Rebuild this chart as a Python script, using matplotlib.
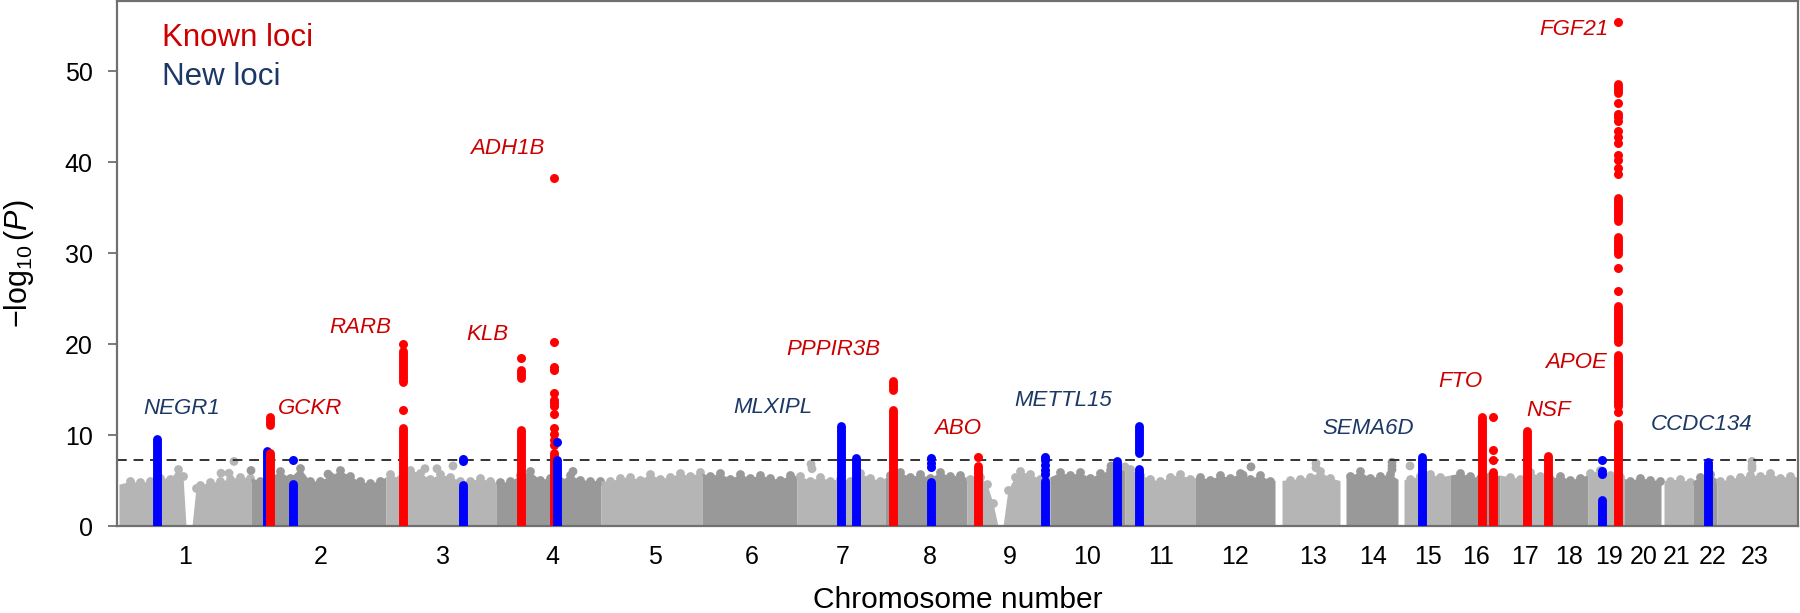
import numpy as np
import matplotlib
matplotlib.use("Agg")
import matplotlib.pyplot as plt

plt.rcParams['font.family'] = ['Liberation Sans', 'DejaVu Sans']
plt.rcParams['mathtext.fontset'] = 'custom'
plt.rcParams['mathtext.rm'] = 'Liberation Sans'
plt.rcParams['mathtext.it'] = 'Liberation Sans:italic'

# chromosome layout, in cumulative position units along the genome
chrom_labels = [str(i) for i in range(1, 24)]
chrom_start = [119, 251, 386, 496, 601, 702, 797, 885, 967, 1050, 1125, 1195,
               1282, 1346, 1404, 1450, 1500, 1549, 1588, 1624, 1664, 1693, 1717]
chrom_end = [251, 386, 496, 601, 702, 797, 885, 967, 1050, 1125, 1195, 1275,
             1340, 1398, 1450, 1500, 1549, 1588, 1624, 1661, 1693, 1717, 1797]
chrom_tick = [185, 321, 443, 552, 655, 752, 843, 930, 1010, 1087, 1161, 1235,
              1313, 1373, 1428, 1476, 1525, 1569, 1609, 1644, 1677, 1713, 1755]

# upper edge of the dense cloud of non-significant SNPs (-log10 P)
bg_pos = [119, 130, 140, 150, 160, 170, 178, 183, 186, 192, 196, 200, 210, 220,
          230, 240, 250, 260, 270, 280, 290, 300, 310, 320, 330, 340, 350, 360,
          370, 380, 390, 400, 410, 420, 430, 440, 450, 460, 470, 480, 490, 500,
          510, 520, 530, 540, 550, 560, 570, 580, 590, 600, 610, 620, 630, 640,
          650, 660, 670, 680, 690, 700, 710, 720, 730, 740, 750, 760, 770, 780,
          790, 800, 810, 820, 830, 840, 850, 860, 870, 880, 890, 900, 910, 920,
          930, 940, 950, 960, 970, 980, 987, 993, 998, 1003, 1008, 1015, 1020,
          1030, 1040, 1050, 1060, 1070, 1080, 1090, 1100, 1110, 1120, 1130, 1140,
          1150, 1160, 1170, 1180, 1190, 1200, 1210, 1220, 1230, 1240, 1250, 1260,
          1270, 1280, 1290, 1300, 1310, 1320, 1330, 1340, 1350, 1360, 1370, 1380,
          1390, 1400, 1410, 1420, 1430, 1440, 1450, 1460, 1470, 1480, 1490, 1500,
          1510, 1520, 1530, 1540, 1550, 1560, 1570, 1580, 1590, 1600, 1610, 1620,
          1630, 1640, 1650, 1660, 1670, 1680, 1690, 1700, 1710, 1720, 1730, 1740,
          1750, 1760, 1770, 1780, 1790, 1797]
bg_top = [4.6, 4.9, 4.8, 4.9, 5.3, 5.2, 6.3, 5.5, 0.0, 0.0, 4.2, 4.5, 4.8, 4.9,
          5.2, 5.4, 5.3, 5.0, 5.4, 6.0, 5.3, 6.4, 4.9, 5.0, 5.5, 6.1, 5.5, 4.9,
          4.7, 5.0, 5.7, 5.2, 6.2, 5.8, 5.2, 5.7, 5.4, 5.0, 4.9, 5.3, 4.9, 4.8,
          4.9, 5.6, 6.0, 5.1, 5.3, 5.0, 5.6, 5.1, 5.0, 5.0, 4.9, 5.3, 5.4, 5.1,
          5.7, 5.2, 5.4, 5.8, 5.5, 5.9, 5.5, 5.8, 5.2, 5.7, 5.3, 5.6, 5.3, 5.1,
          5.6, 5.5, 5.0, 5.4, 5.0, 5.2, 5.0, 5.8, 5.3, 5.0, 5.6, 5.9, 5.4, 5.7,
          5.3, 5.9, 5.5, 5.6, 5.2, 5.4, 4.6, 2.5, 0.0, 0.0, 4.0, 5.4, 6.0,
          5.7, 5.2, 5.4, 5.9, 5.6, 5.9, 5.3, 5.8, 6.1, 6.2, 6.3, 5.6,
          5.2, 4.9, 5.4, 5.7, 5.2, 5.4, 5.1, 5.6, 5.3, 5.8, 5.2, 5.6,
          5.0, 5.0, 5.1, 5.2, 5.4, 6.0, 5.3, 5.0, 5.5, 6.0, 5.3, 5.5,
          5.7, 5.0, 5.2, 5.5, 5.7, 5.4, 5.6, 5.8, 5.5, 5.3, 5.5, 5.6,
          5.4, 5.2, 5.9, 5.5, 5.2, 5.5, 5.1, 5.3, 5.8, 6.2, 5.6, 5.4,
          5.0, 5.3, 5.1, 5.0, 5.0, 5.2, 4.8, 5.4, 5.7, 4.9, 5.2, 5.4,
          5.6, 5.5, 5.8, 5.3, 5.5, 5.4]

# stray grey SNPs sticking out above the cloud
stray_pos = [221, 229, 234, 251, 328, 425, 437, 453, 573, 811, 812, 1111, 1125,
             1243, 1251, 1316, 1316, 1392, 1392, 1392, 1410, 1752, 1752, 1752]
stray_p = [5.8, 5.8, 7.1, 6.1, 5.7, 6.3, 6.3, 6.6, 6.0, 6.8, 6.3, 6.6, 6.5,
           5.6, 6.5, 6.9, 6.4, 7.0, 6.6, 6.2, 6.6, 7.1, 6.6, 6.3]

# significant loci: position, known/new, continuous runs of SNPs, single SNPs
locus_pos = [156.5, 266.5, 270, 292.7, 403, 463, 521, 554.3, 556.5, 840.7, 855.5,
             893, 931, 978.3, 1045, 1117, 1139, 1421.5, 1481.5, 1493, 1527, 1548,
             1602, 1617.5, 1708]
locus_kind = ['new', 'new', 'known', 'new', 'known', 'new', 'known', 'known',
              'new', 'new', 'new', 'known', 'new', 'known', 'new', 'new', 'new',
              'new', 'known', 'known', 'known', 'known', 'new', 'known', 'new']
locus_runs = [
    [(0, 9.6)], [(0, 8.2)], [(0, 8.0), (11.1, 12.0)], [(0, 4.6)],
    [(0, 10.8), (15.8, 19.2)], [(0, 4.5)], [(0, 10.5), (16.3, 17.1)],
    [(0, 8.0)], [(0, 7.3)], [(0, 11.0)], [(0, 7.5)], [(0, 12.7), (14.9, 15.9)],
    [(0, 4.8)], [(0, 6.6)], [(0, 5.0)], [(0, 7.1)], [(0, 6.3), (8.0, 11.0)],
    [(0, 7.6)], [(0, 12.0)], [(0, 5.9)], [(0, 10.4)], [(0, 7.7)], [(0, 2.9)],
    [(0, 11.2), (13.2, 18.8), (20.2, 24.2), (29.9, 31.8), (33.5, 36.0), (47.6, 48.6)],
    [(0, 7.0)],
]
locus_dots = [
    [], [], [], [7.3], [12.7, 20.0], [7.1, 7.35], [18.5],
    [38.2, 20.2, 17.5, 17.1, 14.6, 13.9, 13.5, 13.2, 12.3, 10.8, 10.1, 9.5, 8.9],
    [9.2], [], [], [], [6.5, 6.9, 7.45], [7.55], [5.7, 6.2, 6.7, 7.2, 7.55], [], [],
    [], [], [7.3, 8.4, 12.0], [], [], [5.7, 6.0, 7.3],
    [12.5, 25.8, 28.4, 38.7, 39.3, 40.2, 40.8, 42.1, 42.8, 43.4, 44.5, 44.9,
     45.3, 46.5, 55.4],
    [],
]

gene_names = ['NEGR1', 'GCKR', 'RARB', 'KLB', 'ADH1B', 'MLXIPL', 'PPPIR3B', 'ABO',
              'METTL15', 'SEMA6D', 'FTO', 'NSF', 'APOE', 'FGF21', 'CCDC134']
gene_pos = [182, 310, 360, 487, 507, 773, 833, 958, 1063, 1368, 1460, 1549, 1576,
            1574, 1702]
gene_y = [12.9, 12.9, 21.8, 21.05, 41.5, 13.0, 19.4, 10.75, 13.75, 10.7, 15.9,
          12.7, 18.0, 54.6, 11.2]
gene_kind = ['new', 'known', 'known', 'known', 'known', 'new', 'known', 'known',
             'new', 'new', 'known', 'known', 'known', 'known', 'new']

sig_line = 7.3

point_col = {'known': '#ff0000', 'new': '#0000ff'}
text_col = {'known': '#cc0000', 'new': '#1c3866'}
grey = ['#b5b5b5', '#999999']

fig = plt.figure(figsize=(18, 6.13), dpi=100)
ax = fig.add_axes([117 / 1800, 87 / 613, 1681 / 1800, 525 / 613])

for i in range(len(chrom_labels)):
    s, e = chrom_start[i], chrom_end[i]
    col = grey[i % 2]
    xs = [s] + [p for p in bg_pos if s < p < e] + [e]
    ys = np.interp(xs, bg_pos, bg_top)
    ax.fill_between(xs, 0, ys, color=col, lw=0, zorder=1)
    keep = ys[1:-1] > 0
    ax.scatter(np.array(xs[1:-1])[keep], ys[1:-1][keep], s=40, color=col, lw=0, zorder=1)

stray_col = []
for p in stray_pos:
    idx = max(i for i in range(len(chrom_start)) if chrom_start[i] <= p)
    stray_col.append(grey[idx % 2])
ax.scatter(stray_pos, stray_p, s=40, c=stray_col, lw=0, zorder=1)

ax.axhline(sig_line, color='#333333', lw=1.4, ls=(0, (5, 3.5)), zorder=2)

for k in range(len(locus_pos)):
    c = point_col[locus_kind[k]]
    for lo, hi in locus_runs[k]:
        ax.plot([locus_pos[k], locus_pos[k]], [lo, hi], color=c, lw=6.4,
                solid_capstyle='round', zorder=3 + k * 0.01)
    if locus_dots[k]:
        ax.scatter([locus_pos[k]] * len(locus_dots[k]), locus_dots[k], s=42,
                   color=c, lw=0, zorder=3 + k * 0.01)

for name, x, y, kind in zip(gene_names, gene_pos, gene_y, gene_kind):
    ax.text(x, y, name, color=text_col[kind], fontsize=16, style='italic',
            ha='center', va='center', zorder=5)

ax.text(0.027, 0.929, 'Known loci', color=text_col['known'], fontsize=22.5,
        transform=ax.transAxes, va='center', ha='left')
ax.text(0.027, 0.855, 'New loci', color=text_col['new'], fontsize=22.5,
        transform=ax.transAxes, va='center', ha='left')

ax.set_xlim(117, 1798)
ax.set_ylim(0, 57.7)
ax.set_yticks([0, 10, 20, 30, 40, 50])
ax.set_xticks(chrom_tick)
ax.set_xticklabels(chrom_labels)

for sp in ax.spines.values():
    sp.set_color('#707070')
    sp.set_linewidth(1.6)
ax.tick_params(axis='y', length=6.5, width=1.3, color='#707070', pad=11,
               labelsize=18)
ax.tick_params(axis='x', length=0, pad=14, labelsize=18)

ax.set_xlabel('Chromosome number', fontsize=21.5)
ax.xaxis.set_label_coords(0.5, -0.115)
ax.set_ylabel(r'$-\log_{10}(\mathit{P})$', fontsize=22)
ax.yaxis.set_label_coords(-0.048, 0.5)

fig.savefig('out.png', dpi=100)
